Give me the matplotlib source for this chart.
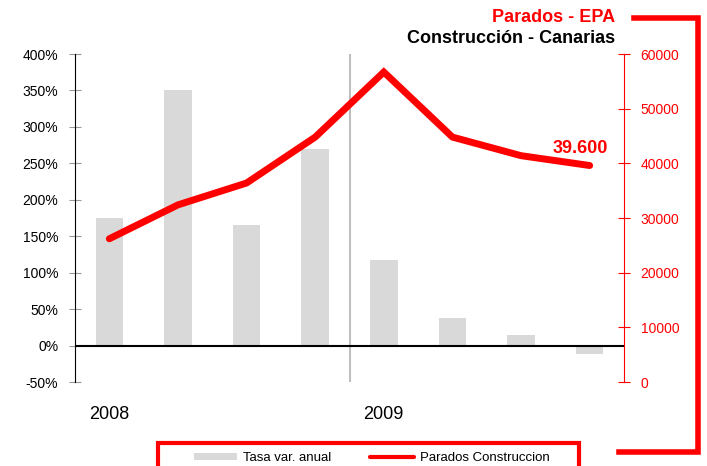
import numpy as np
import matplotlib
matplotlib.use('Agg')
import matplotlib.pyplot as plt
from matplotlib.lines import Line2D
from matplotlib.patches import Rectangle
from matplotlib.ticker import FuncFormatter

plt.rcParams['font.family'] = ['Liberation Sans', 'DejaVu Sans']

# datos trimestrales 2008-2009
trimestres = ['I-08', 'II-08', 'III-08', 'IV-08', 'I-09', 'II-09', 'III-09', 'IV-09']
tasa = [175, 350, 166, 269, 117, 38, 14, -12]          # Tasa var. anual (%)
parados = [26200, 32400, 36400, 44800, 56700, 44800, 41400, 39600]
anios = ['2008', '2009']
anio_pos = [0, 4]

W, H = 707, 466
def fx(px):
    return px / W
def fy(py):
    return 1 - py / H

fig = plt.figure(figsize=(W / 100, H / 100), dpi=100)
ax = fig.add_axes([fx(75), fy(382), fx(624) - fx(75), (382 - 54) / H])
x = np.arange(len(trimestres))

ax.bar(x, tasa, width=0.4, color='#d9d9d9', label='Tasa var. anual', zorder=1)
ax.axhline(0, color='black', lw=1.5, zorder=2)
ax.axvline(3.5, color='#bfbfbf', lw=1.5, zorder=0)
ax.set_xlim(-0.5, 7.5)
ax.set_ylim(-50, 400)
ax.set_yticks(np.arange(-50, 401, 50))
ax.yaxis.set_major_formatter(FuncFormatter(lambda v, p: '%d%%' % v))
ax.tick_params(axis='y', direction='inout', length=8, color='#999999',
               labelsize=10, pad=8)
ax.set_xticks([])
for s in ['top', 'right', 'bottom']:
    ax.spines[s].set_visible(False)
ax.spines['left'].set_color('black')

for a, p in zip(anios, anio_pos):
    ax.text(p, -0.098, a, transform=ax.get_xaxis_transform(), ha='center',
            va='center', fontsize=13)

ax2 = ax.twinx()
ax2.plot(x, parados, color='red', lw=5, solid_joinstyle='miter',
         solid_capstyle='round', label='Parados Construccion', zorder=3)
ax2.set_ylim(0, 60000)
ax2.set_yticks(np.arange(0, 60001, 10000))
ax2.tick_params(axis='y', direction='inout', length=8, color='red',
                labelcolor='red', labelsize=10, pad=8)
for s in ['top', 'left', 'bottom']:
    ax2.spines[s].set_visible(False)
ax2.spines['right'].set_color('red')
ax2.annotate('39.600', (x[-1], parados[-1]), xytext=(18, 13),
             textcoords='offset pixels', ha='right', va='baseline',
             color='red', fontsize=13, fontweight='bold')

# titulos
fig.text(fx(615), fy(22), 'Parados - EPA', color='red', fontsize=13,
         fontweight='bold', ha='right', va='baseline')
fig.text(fx(615), fy(43), 'Construcción - Canarias', color='black',
         fontsize=13, fontweight='bold', ha='right', va='baseline')

# corchete rojo
fig.add_artist(Line2D([fx(634), fx(697.5), fx(697.5), fx(619)],
                      [fy(18), fy(18), fy(452), fy(452)],
                      transform=fig.transFigure, color='red', lw=4,
                      solid_joinstyle='miter'))

# leyenda
h1, l1 = ax.get_legend_handles_labels()
h2, l2 = ax2.get_legend_handles_labels()
leg = fig.legend(h1 + h2, l1 + l2, loc='center left',
                 bbox_to_anchor=(fx(187), fy(458)), ncol=2, frameon=False,
                 fontsize=9.5, handlelength=3.3, handleheight=0.5,
                 handletextpad=0.45, columnspacing=2.95, borderpad=0)
for ln in leg.get_lines():
    ln.set_linewidth(3)
fig.add_artist(Rectangle((fx(158), fy(480)), fx(579) - fx(158), fy(443) - fy(480),
                         transform=fig.transFigure, fill=False, edgecolor='red',
                         lw=3, clip_on=False))

fig.savefig('out.png', dpi=100)
